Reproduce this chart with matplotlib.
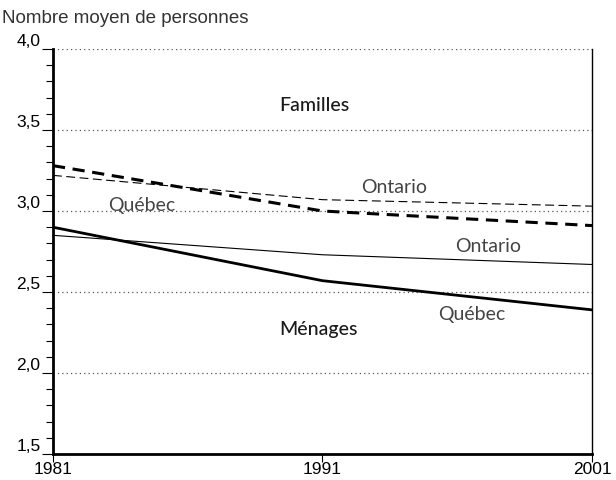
import matplotlib.pyplot as plt
from matplotlib.ticker import MultipleLocator

# data
years = [1981, 1991, 2001]
fam_quebec = [3.28, 3.00, 2.91]
fam_ontario = [3.22, 3.07, 3.03]
men_quebec = [2.90, 2.57, 2.39]
men_ontario = [2.85, 2.73, 2.67]
yticks = [1.5, 2.0, 2.5, 3.0, 3.5, 4.0]

fig = plt.figure(figsize=(6.16, 4.8), dpi=100)
ax = fig.add_axes([0.086, 0.054, 0.875, 0.844])

for y in yticks:
    ax.axhline(y, color='#555555', lw=0.9, ls=(0, (1, 2.5)), zorder=1)

ax.plot(years, fam_quebec, color='black', lw=2.2, ls=(0, (4, 2.5)), zorder=3)
ax.plot(years, fam_ontario, color='black', lw=0.8, ls=(0, (8, 4)), zorder=3)
ax.plot(years, men_quebec, color='black', lw=2.0, zorder=3)
ax.plot(years, men_ontario, color='black', lw=0.8, zorder=3)

ax.set_xlim(1981, 2001)
ax.set_ylim(1.5, 4.0)
ax.set_xticks(years)
ax.set_yticks(yticks)
ax.set_yticklabels([f'{v:.1f}'.replace('.', ',') for v in yticks])
ax.yaxis.set_minor_locator(MultipleLocator(0.1))
ax.tick_params(axis='y', which='major', length=8, width=0.8, labelsize=12.5, pad=1)
ax.tick_params(axis='y', which='minor', length=5, width=0.8)
ax.tick_params(axis='x', which='major', length=6, width=0.8, labelsize=12.5, pad=0)
for lab in ax.get_yticklabels():
    lab.set_verticalalignment('bottom')

ax.spines['top'].set_visible(False)
ax.spines['left'].set_linewidth(2)
ax.spines['bottom'].set_linewidth(2)
ax.spines['right'].set_linewidth(1)

lab_font = dict(family='Lato', color='#444444', fontsize=14)
ax.text(1990.7, 3.65, 'Familles', ha='center', va='center', family='Lato',
        fontsize=14, fontweight='medium', color='#1a1a1a')
ax.text(1990.85, 2.27, 'Ménages', ha='center', va='center', family='Lato',
        fontsize=14, fontweight='medium', color='#1a1a1a')
ax.text(1993.65, 3.095, 'Ontario', ha='center', va='bottom', **lab_font)
ax.text(1984.3, 2.98, 'Québec', ha='center', va='bottom', **lab_font)
ax.text(1997.15, 2.73, 'Ontario', ha='center', va='bottom', **lab_font)
ax.text(1996.55, 2.31, 'Québec', ha='center', va='bottom', **lab_font)

fig.text(0.003, 0.962, 'Nombre moyen de personnes', fontsize=13.5, color='#333333',
         family='Liberation Sans', ha='left', va='center')
for lab in ax.get_xticklabels() + ax.get_yticklabels():
    lab.set_family('Liberation Sans')

fig.savefig('out.png', dpi=100)
